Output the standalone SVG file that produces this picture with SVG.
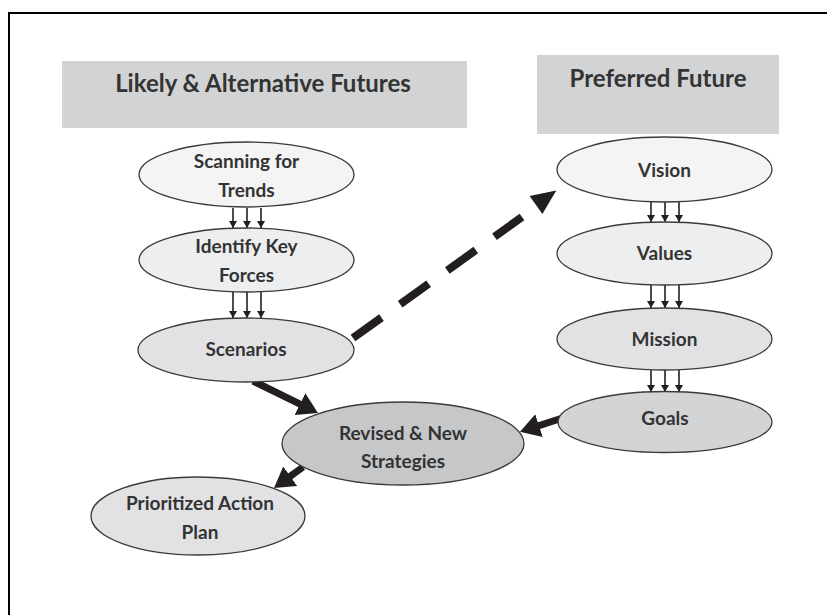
<svg xmlns="http://www.w3.org/2000/svg" width="827" height="615" viewBox="0 0 827 615">
<style>
.hdr{fill:#d1d3d4}
.ht{font-family:Lato,"Liberation Sans",sans-serif;font-weight:bold;font-size:24px;fill:#333;text-anchor:middle}
.nt{font-family:Lato,"Liberation Sans",sans-serif;font-weight:bold;font-size:19px;fill:#333;text-anchor:middle}
.el{stroke:#3a3a3a;stroke-width:1.3}
.c1{fill:#f4f4f4}.c2{fill:#eceeef}.c3{fill:#e2e2e5}.c4{fill:#d3d4d6}.c5{fill:#c6c7c9}
.sa{stroke:#231f20;stroke-width:1.6;fill:none}
.ta{stroke:#231f20;stroke-width:7;fill:none}
</style>
<defs>
<marker id="sm" markerUnits="userSpaceOnUse" markerWidth="8" markerHeight="8" refX="7" refY="4" orient="auto">
<path d="M0,0 L7,4 L0,8 z" fill="#231f20"/>
</marker>
<marker id="big" markerUnits="userSpaceOnUse" markerWidth="20" markerHeight="24" refX="4" refY="12" orient="auto">
<path d="M0,0 L20,12 L0,24 z" fill="#231f20"/>
</marker>
</defs>
<rect width="827" height="615" fill="#fff"/>
<path d="M9,615 L9,13 L827,13" fill="none" stroke="#000" stroke-width="2"/>

<g id="header-likely">
<rect class="hdr" x="62" y="61" width="405" height="67"/>
<text class="ht" x="263" y="92">Likely &amp; Alternative Futures</text>
</g>
<g id="header-preferred">
<rect class="hdr" x="537" y="55" width="242" height="79"/>
<text class="ht" x="658" y="87">Preferred Future</text>
</g>

<g id="connectors">
<line class="sa" x1="233" y1="208" x2="233" y2="228" marker-end="url(#sm)"/>
<line class="sa" x1="247" y1="208" x2="247" y2="228" marker-end="url(#sm)"/>
<line class="sa" x1="261" y1="208" x2="261" y2="228" marker-end="url(#sm)"/>
<line class="sa" x1="233" y1="292" x2="233" y2="318" marker-end="url(#sm)"/>
<line class="sa" x1="247" y1="292" x2="247" y2="318" marker-end="url(#sm)"/>
<line class="sa" x1="261" y1="292" x2="261" y2="318" marker-end="url(#sm)"/>
<line class="sa" x1="651" y1="202" x2="651" y2="222" marker-end="url(#sm)"/>
<line class="sa" x1="665" y1="202" x2="665" y2="222" marker-end="url(#sm)"/>
<line class="sa" x1="679" y1="202" x2="679" y2="222" marker-end="url(#sm)"/>
<line class="sa" x1="651" y1="285" x2="651" y2="308" marker-end="url(#sm)"/>
<line class="sa" x1="665" y1="285" x2="665" y2="308" marker-end="url(#sm)"/>
<line class="sa" x1="679" y1="285" x2="679" y2="308" marker-end="url(#sm)"/>
<line class="sa" x1="651" y1="370" x2="651" y2="392" marker-end="url(#sm)"/>
<line class="sa" x1="665" y1="370" x2="665" y2="392" marker-end="url(#sm)"/>
<line class="sa" x1="679" y1="370" x2="679" y2="392" marker-end="url(#sm)"/>
<line class="ta" x1="253" y1="381" x2="303.6" y2="405.9" marker-end="url(#big)"/>
<line class="ta" x1="561" y1="418.5" x2="535.2" y2="426.9" marker-end="url(#big)"/>
<line class="ta" x1="303" y1="467" x2="287" y2="478.6" marker-end="url(#big)"/>
<line x1="353" y1="338" x2="522" y2="217" stroke="#231f20" stroke-width="8" stroke-dasharray="35 23"/>
<polygon points="529.6,196.1 556.3,190.5 542.4,213.9" fill="#231f20"/>
</g>

<g id="scanning">
<ellipse class="el c1" cx="246.5" cy="174.5" rx="107.5" ry="32.5"/>
<text class="nt" x="246.5" y="168">Scanning for</text>
<text class="nt" x="246.5" y="197">Trends</text>
</g>
<g id="identify">
<ellipse class="el c2" cx="246.5" cy="260" rx="107.5" ry="32"/>
<text class="nt" x="246.5" y="253">Identify Key</text>
<text class="nt" x="246.5" y="282">Forces</text>
</g>
<g id="scenarios">
<ellipse class="el c3" cx="246" cy="350" rx="108" ry="32"/>
<text class="nt" x="246" y="356">Scenarios</text>
</g>
<g id="vision">
<ellipse class="el c1" cx="664.5" cy="169.5" rx="107.5" ry="32.5"/>
<text class="nt" x="664.5" y="177">Vision</text>
</g>
<g id="values">
<ellipse class="el c2" cx="664.5" cy="253.5" rx="107.5" ry="31.5"/>
<text class="nt" x="664.5" y="260">Values</text>
</g>
<g id="mission">
<ellipse class="el c3" cx="664.5" cy="339" rx="107.5" ry="31"/>
<text class="nt" x="664.5" y="346">Mission</text>
</g>
<g id="goals">
<ellipse class="el c4" cx="665" cy="422" rx="107" ry="30.5"/>
<text class="nt" x="665" y="425">Goals</text>
</g>
<g id="revised">
<ellipse class="el c5" cx="403" cy="443.5" rx="121" ry="41.5"/>
<text class="nt" x="403" y="440">Revised &amp; New</text>
<text class="nt" x="403" y="468">Strategies</text>
</g>
<g id="prioritized">
<ellipse class="el c3" cx="198" cy="516" rx="107" ry="39"/>
<text class="nt" x="200" y="510">Prioritized Action</text>
<text class="nt" x="200" y="539">Plan</text>
</g>
</svg>
